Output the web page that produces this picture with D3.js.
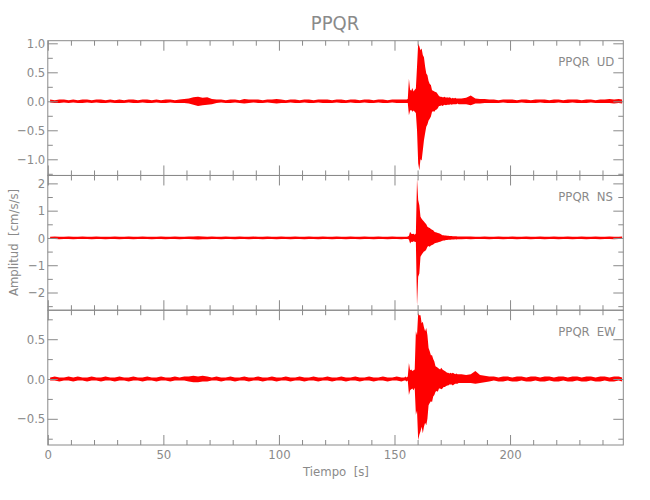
<!DOCTYPE html>
<html><head><meta charset="utf-8">
<script src="https://cdn.jsdelivr.net/npm/d3@7"></script>
<style>
body{margin:0;background:#fff;}
svg text{font-family:'Liberation Sans Narrow','DejaVu Sans Condensed',sans-serif;fill:#8a8a8a;white-space:pre;}
</style></head><body>
<svg id="c" width="650" height="500"></svg>
<script>
const title = "PPQR";
const station = "PPQR";
const components = ["UD", "NS", "EW"];
const xLabel = "Tiempo  [s]";
const yLabel = "Amplitud  [cm/s/s]";
const timeEnd = 249;
const xMajor = [0, 50, 100, 150, 200];
const xMinor = [10,20,30,40,60,70,80,90,110,120,130,140,160,170,180,190,210,220,230,240];
// sample-bin segments [start, end, step] (s)
const tSegments = [[0, 152, 2], [154, 177.5, 0.5], [178, 248, 2]];

// per-bin maximum / minimum amplitude
const udHi = [
 .03,.02,.03,.03,.02,.03,.02,.03,.03,.02,.03,.03,.02,.03,.02,
 .03,.02,.03,.03,.02,.03,.03,.02,.03,.02,.03,.03,.02,.03,.04,
 .05,.07,.08,.06,.07,.04,.03,.03,.02,.03,.03,.02,.04,.03,.03,
 .03,.02,.03,.03,.04,.03,.02,.03,.03,.02,.03,.03,.02,.03,.03,
 .03,.02,.03,.03,.02,.03,.03,.02,.03,.03,.02,.03,.03,.02,.03,.03,.03,
 .03,.03,.03,.04,.39,.20,.18,.23,.17,.20,.22,.60,1.00,.95,.88,.91,.80,.76,.60,.48,.45,.35,.30,.28,
 .19,.18,.17,.16,.15,.12,.09,.08,.08,.07,.07,.08,.06,.07,.06,.07,.06,.05,.06,.05,.06,.05,.05,.05,
 .05,.06,.10,.05,.04,.04,.03,.03,.02,.03,.03,.03,.02,.03,.03,.02,.03,.03,
 .03,.02,.03,.03,.02,.03,.03,.03,.02,.03,.03,.02,.03,.03,.04,.03,.04,.03
];
const udLo = [
 -.02,-.03,-.03,-.02,-.03,-.02,-.03,-.03,-.02,-.03,-.02,-.03,-.03,-.02,-.03,
 -.03,-.03,-.02,-.03,-.03,-.02,-.03,-.03,-.02,-.03,-.03,-.02,-.03,-.03,-.03,
 -.04,-.06,-.08,-.07,-.06,-.05,-.03,-.02,-.03,-.03,-.02,-.03,-.04,-.03,-.02,
 -.03,-.03,-.02,-.03,-.04,-.03,-.03,-.02,-.03,-.03,-.02,-.03,-.03,-.02,-.03,
 -.03,-.03,-.02,-.03,-.03,-.02,-.03,-.03,-.02,-.03,-.03,-.02,-.03,-.03,-.02,-.03,-.03,
 -.03,-.03,-.03,-.03,-.24,-.16,-.15,-.18,-.16,-.18,-.20,-.50,-1.07,-1.19,-1.00,-1.02,-.85,-.67,-.55,-.44,-.40,-.33,-.30,-.26,
 -.18,-.17,-.18,-.15,-.14,-.12,-.08,-.08,-.07,-.08,-.07,-.06,-.07,-.06,-.06,-.06,-.05,-.06,-.05,-.05,-.05,-.05,-.04,-.05,
 -.05,-.05,-.07,-.04,-.04,-.03,-.03,-.03,-.03,-.02,-.03,-.03,-.03,-.02,-.03,-.03,-.03,-.02,
 -.03,-.03,-.03,-.02,-.03,-.03,-.02,-.03,-.03,-.03,-.02,-.03,-.03,-.03,-.03,-.04,-.03,-.04
];
const nsHi = [
 .04,.05,.04,.04,.05,.04,.04,.05,.04,.04,.05,.04,.04,.04,.05,
 .04,.04,.05,.04,.04,.05,.04,.04,.04,.05,.04,.04,.05,.04,.04,
 .05,.05,.06,.05,.04,.05,.04,.04,.05,.04,.04,.05,.04,.04,.05,
 .04,.04,.05,.04,.04,.05,.04,.04,.05,.04,.04,.05,.04,.04,.05,
 .04,.04,.05,.04,.04,.05,.04,.04,.05,.04,.04,.05,.04,.04,.05,.04,.04,
 .04,.04,.04,.05,.08,.23,.15,.14,.15,.12,.16,2.19,1.39,1.20,.78,.70,.65,.60,.55,.50,.41,.38,.36,.33,
 .30,.28,.23,.21,.20,.18,.17,.15,.13,.10,.10,.09,.09,.08,.08,.07,.07,.07,.06,.06,.06,.06,.05,.05,
 .05,.05,.05,.04,.04,.05,.04,.04,.05,.04,.04,.05,.04,.04,.05,.04,.04,.05,
 .04,.04,.05,.04,.04,.05,.04,.04,.05,.04,.04,.05,.04,.04,.05,.04,.04,.05
];
const nsLo = [
 -.04,-.04,-.05,-.04,-.04,-.05,-.04,-.04,-.04,-.05,-.04,-.04,-.05,-.04,-.04,
 -.05,-.04,-.04,-.05,-.04,-.04,-.04,-.05,-.04,-.04,-.05,-.04,-.04,-.05,-.04,
 -.04,-.05,-.06,-.05,-.05,-.04,-.04,-.05,-.04,-.04,-.05,-.04,-.04,-.05,-.04,
 -.04,-.05,-.04,-.04,-.05,-.04,-.04,-.05,-.04,-.04,-.05,-.04,-.04,-.05,-.04,
 -.04,-.05,-.04,-.04,-.05,-.04,-.04,-.05,-.04,-.04,-.05,-.04,-.04,-.05,-.04,-.04,-.05,
 -.04,-.04,-.04,-.04,-.06,-.20,-.14,-.15,-.12,-.14,-.15,-2.50,-1.42,-1.30,-.69,-.62,-.55,-.50,-.48,-.42,-.32,-.30,-.32,-.28,
 -.26,-.24,-.20,-.19,-.18,-.17,-.15,-.14,-.12,-.10,-.09,-.09,-.08,-.08,-.07,-.07,-.07,-.06,-.06,-.06,-.05,-.06,-.05,-.05,
 -.05,-.04,-.05,-.04,-.04,-.04,-.05,-.04,-.04,-.05,-.04,-.04,-.05,-.04,-.04,-.05,-.04,-.04,
 -.05,-.04,-.04,-.05,-.04,-.04,-.05,-.04,-.04,-.05,-.04,-.04,-.05,-.04,-.04,-.05,-.04,-.04
];
const ewHi = [
 .02,.03,.02,.02,.03,.02,.03,.02,.02,.03,.02,.02,.03,.02,.02,
 .03,.02,.02,.03,.02,.02,.03,.02,.02,.03,.02,.02,.03,.02,.03,
 .03,.04,.03,.04,.03,.02,.03,.02,.02,.03,.02,.02,.03,.02,.02,
 .03,.02,.02,.03,.02,.02,.03,.02,.02,.03,.02,.02,.03,.02,.02,
 .03,.02,.02,.03,.02,.02,.03,.02,.02,.03,.02,.02,.03,.02,.02,.03,.02,
 .02,.03,.02,.03,.20,.11,.12,.10,.11,.12,.60,.55,.83,.80,.80,.70,.72,.65,.60,.64,.55,.39,.35,.30,
 .30,.25,.22,.16,.15,.14,.13,.12,.14,.12,.11,.10,.09,.08,.08,.07,.08,.07,.08,.07,.06,.07,.06,.06,
 .06,.05,.06,.10,.05,.04,.03,.03,.02,.03,.03,.02,.03,.03,.02,.03,.03,.02,
 .03,.03,.02,.03,.03,.02,.03,.03,.02,.03,.03,.02,.03,.03,.02,.03,.03,.02
];
const ewLo = [
 -.02,-.02,-.03,-.02,-.02,-.03,-.02,-.02,-.03,-.02,-.02,-.03,-.02,-.02,-.03,
 -.02,-.02,-.03,-.02,-.02,-.03,-.02,-.02,-.03,-.02,-.02,-.03,-.02,-.02,-.02,
 -.03,-.04,-.04,-.03,-.03,-.02,-.02,-.03,-.02,-.02,-.03,-.02,-.02,-.03,-.02,
 -.02,-.03,-.02,-.02,-.03,-.02,-.02,-.03,-.02,-.02,-.03,-.02,-.02,-.03,-.02,
 -.02,-.03,-.02,-.02,-.03,-.02,-.02,-.03,-.02,-.02,-.03,-.02,-.02,-.03,-.02,-.02,-.03,
 -.02,-.02,-.03,-.02,-.20,-.14,-.13,-.12,-.14,-.11,-.45,-.40,-.77,-.70,-.66,-.60,-.68,-.60,-.55,-.58,-.50,-.33,-.30,-.28,
 -.29,-.22,-.20,-.16,-.15,-.16,-.12,-.12,-.13,-.12,-.10,-.10,-.09,-.08,-.08,-.07,-.07,-.07,-.08,-.07,-.06,-.06,-.06,-.05,
 -.05,-.05,-.05,-.06,-.05,-.04,-.03,-.02,-.03,-.03,-.02,-.03,-.03,-.02,-.03,-.03,-.02,-.03,
 -.03,-.02,-.03,-.03,-.02,-.03,-.03,-.02,-.03,-.03,-.02,-.03,-.03,-.02,-.03,-.03,-.02,-.03
];

// y-axis settings per component
const yDomains = [[-1.279, 1.045], [-2.65, 2.29], [-0.829, 0.864]];
const yMajor = [[-1, -0.5, 0, 0.5, 1], [-2, -1, 0, 1, 2], [-0.5, 0, 0.5]];
const yMinor = [[-1.25, -0.75, -0.25, 0.25, 0.75], [-2.5, -1.5, -0.5, 0.5, 1.5], [-0.75, -0.25, 0.25, 0.75]];
const yDecimals = [1, 0, 1];

const series = [[udHi, udLo], [nsHi, nsLo], [ewHi, ewLo]];

const svg = d3.select("#c");
const gray = "#8a8a8a";
const L = 47.8, R = 623.3, T = 40.7, B = 445;
const ph = (B - T) / 3;
const x = d3.scaleLinear().domain([0, timeEnd]).range([L, R]);
const times = tSegments.flatMap(([a, b, s]) => d3.range(a, b + s / 2, s));

function styleAxis(g) {
  g.select(".domain").remove();
  g.selectAll(".tick line").attr("stroke", gray);
  g.selectAll("text").attr("fill", gray).style("font-size", "13px")
    .style("font-family", "'Liberation Sans Narrow','DejaVu Sans Condensed',sans-serif");
  g.attr("font-family", null).attr("font-size", null);
}
const minus = s => s.replace("-", "\u2212");

components.forEach((comp, i) => {
  const y0 = T + i * ph, y1 = y0 + ph;
  const y = d3.scaleLinear().domain(yDomains[i]).range([y1, y0]);
  const [hi, lo] = series[i];
  const bins = times.map((t, k) => ({
    t: t + ((k < times.length - 1 ? times[k + 1] : timeEnd) - t) / 2,
    hi: hi[k], lo: lo[k]
  }));
  const clipId = "clip" + i;
  svg.append("clipPath").attr("id", clipId).append("rect")
    .attr("x", L).attr("y", y0).attr("width", R - L).attr("height", ph);
  const area = d3.area().x(d => x(d.t)).y0(d => y(d.lo)).y1(d => y(d.hi));
  svg.append("path")
    .attr("clip-path", `url(#${clipId})`)
    .attr("d", area(bins))
    .attr("fill", "#ff0000").attr("stroke", "none");

  // box
  svg.append("rect").attr("x", L).attr("y", y0).attr("width", R - L).attr("height", ph)
    .attr("fill", "none").attr("stroke", gray).attr("stroke-width", 1);

  const fmt = d => minus(d3.format("." + yDecimals[i] + "f")(d));
  svg.append("g").attr("transform", `translate(${L},0)`)
    .call(d3.axisLeft(y).tickValues(yMajor[i]).tickSize(-10).tickPadding(2.5).tickFormat(fmt)).call(styleAxis);
  svg.append("g").attr("transform", `translate(${L},0)`)
    .call(d3.axisLeft(y).tickValues(yMinor[i]).tickSize(-5).tickFormat("")).call(styleAxis);
  svg.append("g").attr("transform", `translate(${R},0)`)
    .call(d3.axisRight(y).tickValues(yMajor[i]).tickSize(-10).tickFormat("")).call(styleAxis);
  svg.append("g").attr("transform", `translate(${R},0)`)
    .call(d3.axisRight(y).tickValues(yMinor[i]).tickSize(-5).tickFormat("")).call(styleAxis);

  svg.append("g").attr("transform", `translate(0,${y0})`)
    .call(d3.axisTop(x).tickValues(xMajor).tickSize(-10).tickFormat("")).call(styleAxis);
  svg.append("g").attr("transform", `translate(0,${y0})`)
    .call(d3.axisTop(x).tickValues(xMinor).tickSize(-5).tickFormat("")).call(styleAxis);
  svg.append("g").attr("transform", `translate(0,${y1})`)
    .call(d3.axisBottom(x).tickValues(xMajor).tickSize(-10).tickPadding(5)
      .tickFormat(i === components.length - 1 ? d3.format("d") : "")).call(styleAxis);
  svg.append("g").attr("transform", `translate(0,${y1})`)
    .call(d3.axisBottom(x).tickValues(xMinor).tickSize(-5).tickFormat("")).call(styleAxis);

  const lab = svg.append("g").style("font-size", "13px");
  lab.append("text").attr("x", 558.3).attr("y", y0 + 25.3).text(station);
  lab.append("text").attr("x", 596.7).attr("y", y0 + 25.3).text(comp);
});

svg.append("text").attr("x", 335).attr("y", 30).attr("text-anchor", "middle")
  .style("font-size", "20px").text(title);
svg.append("text").attr("x", 336).attr("y", 476).attr("text-anchor", "middle")
  .style("font-size", "13px").text(xLabel);
svg.append("text").attr("transform", "translate(17.8,242.5) rotate(-90)").attr("text-anchor", "middle")
  .style("font-size", "13px").text(yLabel);
</script>
</body></html>
